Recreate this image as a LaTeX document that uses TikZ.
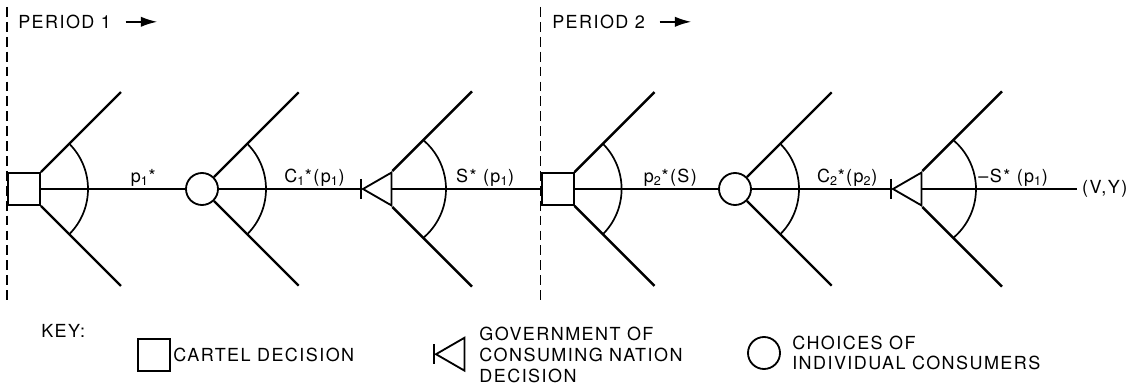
\documentclass[tikz,border=0pt]{standalone}
\usepackage{fontspec}
\setmainfont[LetterSpace=8]{TeX Gyre Heros}
\usetikzlibrary{arrows.meta,shapes.geometric}

\begin{document}
\begin{tikzpicture}[every node/.style={font=\fontsize{12.8}{14.8}\selectfont},
	cart/.style={draw, line width=1.3pt, minimum size=8mm, inner sep=0pt},
	cons/.style={draw, circle, line width=1.3pt, minimum size=8mm, inner sep=0pt},
	gov/.style={draw, regular polygon, regular polygon sides=3, shape border rotate=90, line width=1.3pt, minimum size=9.5mm, inner sep=0pt},
	br/.style={line width=1.7pt},
	per/.style={line width=1.1pt, dash pattern=on 7pt off 3.6pt},
	go/.style={line width=1.6pt, -{Latex[length=4.2mm,width=2.6mm]}},
	lab/.style={anchor=base, inner sep=0pt},
	txt/.style={anchor=west, align=left, inner sep=0pt}]
	\useasboundingbox (0,4.725) rectangle (28.55,-4.975);
	\node[cart] (s1) at (0.6,0) {};
	\node[cons] (c1) at (5.05,0) {};
	\node[gov] (g1) at (9.55,0) {};
	\node[cart] (s2) at (13.94,0) {};
	\node[cons] (c2) at (18.375,0) {};
	\node[gov] (g2) at (22.8,0) {};
	\node[anchor=west] (vy) at (26.93,0) {(V,Y)};
	\draw[br] (s1.east) -- (c1.west);
	\draw[br] (c1.east) -- (g1.corner 1);
	\draw[br] (g1.side 2) -- (s2.west);
	\draw[br] (s2.east) -- (c2.west);
	\draw[br] (c2.east) -- (g2.corner 1);
	\draw[br] (g2.side 2) -- (vy.west);
	\foreach \n/\u/\d/\l/\a in {s1/north east/south east/2/45, c1/north east/south east/2.117/45, g1/corner 3/corner 2/1.99/49, s2/north east/south east/2/45, c2/north east/south east/2.117/45, g2/corner 3/corner 2/1.99/49} {
		\draw[br] (\n.\u) -- ++(\l,\l);
		\draw[br] (\n.\d) -- ++(\l,-\l);
		\draw[line width=1.2pt] (\n.center) ++(-\a:1.6) arc[start angle=-\a, end angle=\a, radius=1.6];
	}
	\foreach \n in {g1,g2}
		\draw[line width=1.5pt] (\n.corner 1) ++(0,0.25) -- ++(0,-0.5);
	\draw[per] (s1.west |- 0,4.55) -- (s1.west |- 0,-2.78);
	\draw[per] (s2.west |- 0,4.55) -- (s2.west |- 0,-2.78);
	\node[txt] (p1) at (0.45,4.18) {PERIOD 1};
	\node[txt] (p2) at (13.8,4.18) {PERIOD 2};
	\draw[go] ([xshift=3.6mm]p1.east) -- ++(0.8,0);
	\draw[go] ([xshift=3.6mm]p2.east) -- ++(0.8,0);
	\node[lab] (l1) at (3.58,0.17) {p\textsubscript{1}*};
	\node[lab] (l2) at (7.86,0.17) {C\textsubscript{1}*(p\textsubscript{1})};
	\node[lab] (l3) at (12.13,0.17) {S* (p\textsubscript{1})};
	\node[lab] (l4) at (16.76,0.17) {p\textsubscript{2}*(S)};
	\node[lab] (l5) at (21.18,0.17) {C\textsubscript{2}*(p\textsubscript{2})};
	\node[lab] (l6) at (25.33,0.17) {–S* (p\textsubscript{1})};
	\node[txt] (key) at (1.025,-3.55) {KEY:};
	\node[cart] (ks) at (3.84,-4.16) {};
	\node[txt] (kst) at (4.33,-4.15) {CARTEL DECISION};
	\node[gov] (kg) at (11.375,-4.13) {};
	\draw[line width=1.5pt] (kg.corner 1) ++(0,0.25) -- ++(0,-0.5);
	\node[txt] (kgt) at (11.98,-4.15) {GOVERNMENT OF\\CONSUMING NATION\\DECISION};
	\node[cons] (kc) at (19.1,-4.1) {};
	\node[txt] (kct) at (19.8,-4.1) {CHOICES OF\\INDIVIDUAL CONSUMERS};
\end{tikzpicture}
\end{document}
